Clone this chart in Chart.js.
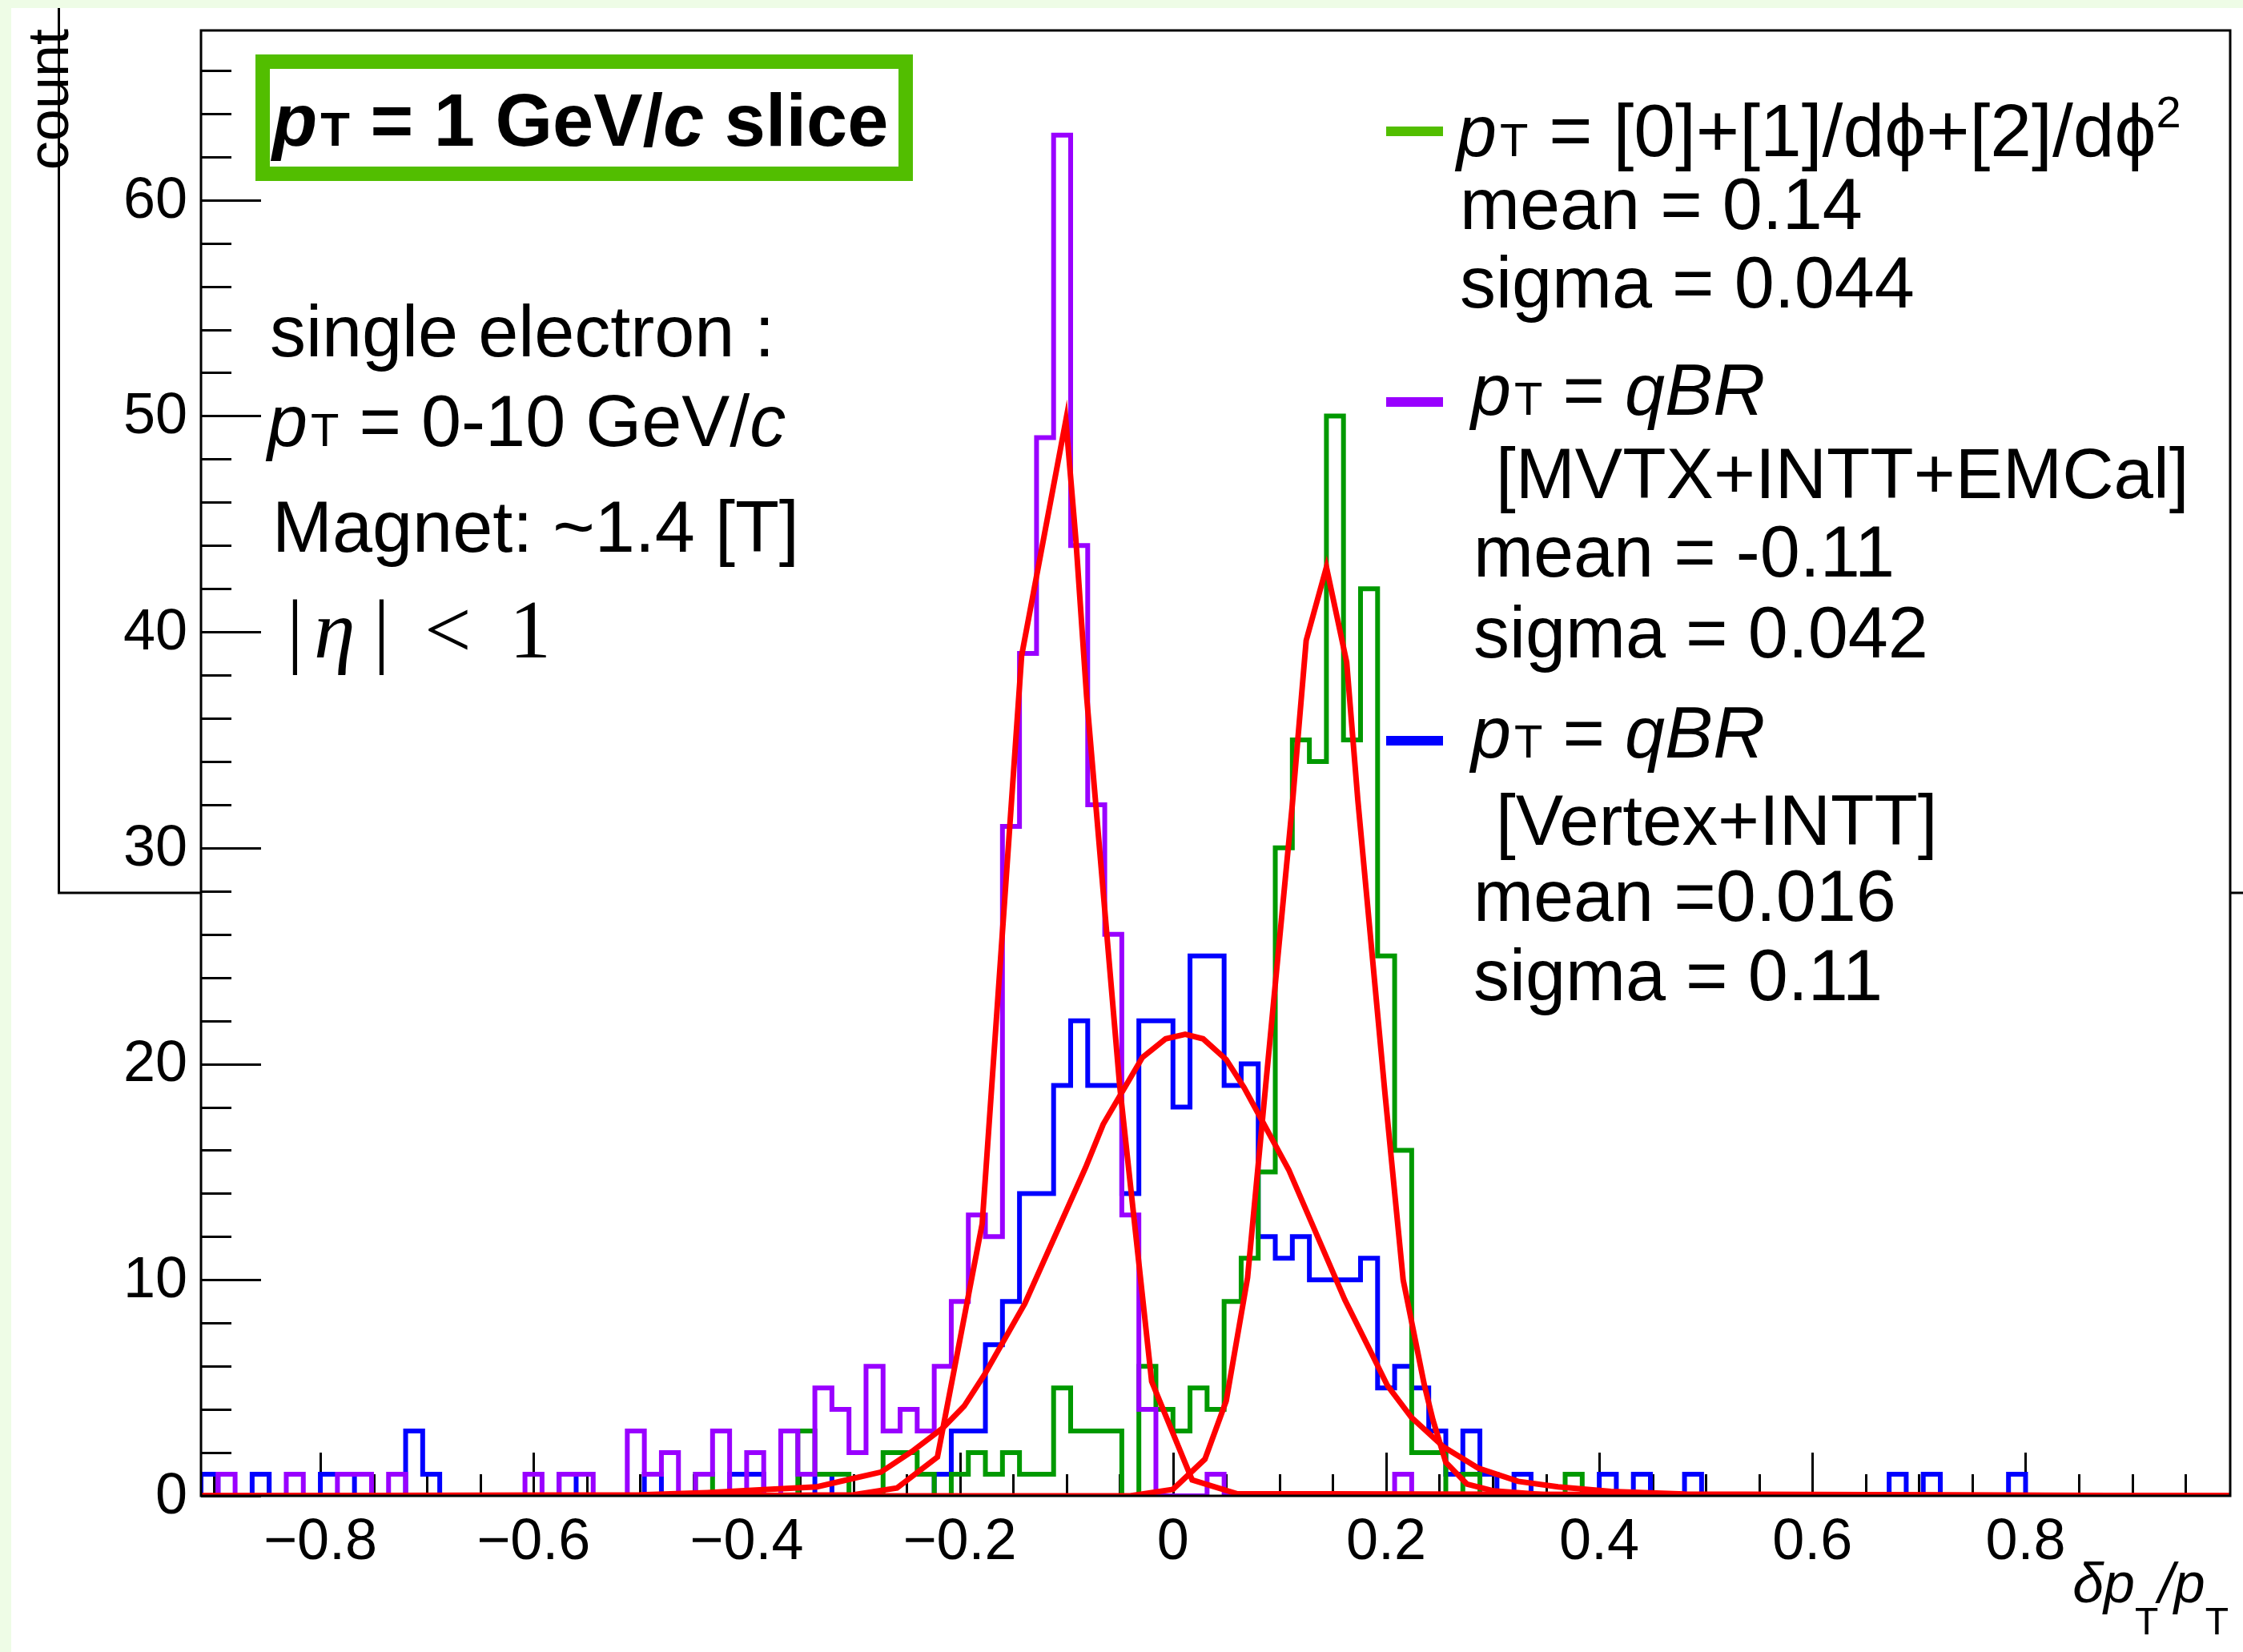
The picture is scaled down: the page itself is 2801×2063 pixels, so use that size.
<!DOCTYPE html>
<html>
<head>
<meta charset="utf-8">
<title>pT resolution, 1 GeV/c slice</title>
<script src="https://cdn.jsdelivr.net/npm/chart.js@4.4.1/dist/chart.umd.min.js"></script>
<style>
  html, body { margin: 0; padding: 0; background: #eefce6; }
  #plot { display: block; }
</style>
</head>
<body>
<canvas id="plot" width="2801" height="2063"></canvas>
<script>
// histogram binning (119 bins of 0.016 starting at -0.912)
const binLow = -0.912;
const binWidth = 0.016;

// pT = [0]+[1]/dphi+[2]/dphi^2
const greenCounts = [
  0, 0, 0, 0, 0, 0, 0, 0, 0, 0,
  0, 0, 0, 0, 0, 0, 0, 0, 0, 0,
  0, 0, 0, 0, 0, 0, 0, 0, 0, 1,
  0, 0, 0, 0, 0, 3, 1, 1, 0, 0,
  2, 2, 1, 0, 1, 2, 1, 2, 1, 1,
  5, 3, 3, 3, 0, 6, 4, 3, 5, 4,
  9, 11, 15, 30, 35, 34, 50, 35, 42, 25,
  16, 2, 2, 0, 1, 0, 0, 0, 0, 0,
  1, 0, 0, 0, 0, 0, 0, 0, 0, 0,
  0, 0, 0, 0, 0, 0, 0, 0, 0, 0,
  0, 0, 0, 0, 0, 0, 0, 0, 0, 0,
  0, 0, 0, 0, 0, 0, 0, 0, 0,
];

// pT = qBR [MVTX+INTT+EMCal]
const purpleCounts = [
  0, 1, 0, 0, 0, 1, 0, 0, 1, 1,
  0, 1, 0, 0, 0, 0, 0, 0, 0, 1,
  0, 1, 1, 0, 0, 3, 1, 2, 0, 1,
  3, 0, 2, 0, 3, 1, 5, 4, 2, 6,
  3, 4, 3, 6, 9, 13, 12, 31, 39, 49,
  63, 44, 32, 26, 13, 4, 0, 0, 0, 1,
  0, 0, 0, 0, 0, 0, 0, 0, 0, 0,
  1, 0, 0, 0, 0, 0, 0, 0, 0, 0,
  0, 0, 0, 0, 0, 0, 0, 0, 0, 0,
  0, 0, 0, 0, 0, 0, 0, 0, 0, 0,
  0, 0, 0, 0, 0, 0, 0, 0, 0, 0,
  0, 0, 0, 0, 0, 0, 0, 0, 0,
];

// pT = qBR [Vertex+INTT]
const blueCounts = [
  1, 0, 0, 1, 0, 0, 0, 1, 1, 0,
  0, 0, 3, 1, 0, 0, 0, 0, 0, 0,
  0, 1, 0, 0, 0, 0, 1, 0, 0, 0,
  0, 1, 1, 0, 0, 0, 1, 0, 0, 0,
  0, 0, 0, 1, 3, 3, 7, 9, 14, 14,
  19, 22, 19, 19, 14, 22, 22, 18, 25, 25,
  19, 20, 12, 11, 12, 10, 10, 10, 11, 5,
  6, 5, 3, 1, 3, 1, 0, 1, 0, 0,
  0, 0, 1, 0, 1, 0, 0, 1, 0, 0,
  0, 0, 0, 0, 0, 0, 0, 0, 0, 1,
  0, 1, 0, 0, 0, 0, 1, 0, 0, 0,
  0, 0, 0, 0, 0, 0, 0, 0, 0,
];

// gaussian fit curves, vertices
const purpleFitX = [-0.912, -0.45, -0.30, -0.259, -0.221, -0.179, -0.142, -0.1005, -0.091, -0.081, -0.050, -0.020, 0.018, 0.06, 0.992];
const purpleFitY = [0, 0, 0.05, 0.36, 1.8, 12.6, 38.9, 49.8, 44.2, 37.0, 19.0, 5.3, 0.74, 0.1, 0];

const greenFitX = [-0.912, -0.04, 0.0, 0.030, 0.050, 0.070, 0.087, 0.112, 0.125, 0.144, 0.163, 0.1735, 0.199, 0.216, 0.236, 0.244, 0.256, 0.276, 0.301, 0.35, 0.992];
const greenFitY = [0, 0, 0.3, 1.7, 4.4, 10.1, 19.0, 32.0, 39.6, 43.0, 38.6, 32.2, 18.6, 10.0, 5.1, 3.5, 1.55, 0.54, 0.23, 0.05, 0];

const blueFitX = [-0.912, -0.50, -0.437, -0.381, -0.334, -0.305, -0.274, -0.245, -0.216, -0.196, -0.177, -0.139, -0.082, -0.0655, -0.0287, -0.0069, 0.0115, 0.0283, 0.050, 0.0668, 0.1086, 0.1613, 0.1863, 0.2013, 0.2238, 0.2538, 0.2863, 0.3238, 0.3613, 0.411, 0.48, 0.992];
const blueFitY = [0, 0.05, 0.15, 0.3, 0.42, 0.75, 1.1, 2.05, 3.14, 4.15, 5.6, 8.9, 15.2, 17.2, 20.3, 21.16, 21.37, 21.16, 20.2, 18.9, 15.1, 9.07, 6.6, 5.1, 3.63, 2.27, 1.29, 0.67, 0.42, 0.2, 0.08, 0];

// axes
const xMajorTicks = [-0.8, -0.6, -0.4, -0.2, 0, 0.2, 0.4, 0.6, 0.8];
const xTickLabels = ["\u22120.8", "\u22120.6", "\u22120.4", "\u22120.2", "0", "0.2", "0.4", "0.6", "0.8"];
const xMinorStep = 0.05;
const yMajorTicks = [0, 10, 20, 30, 40, 50, 60];
const yTickLabels = ["0", "10", "20", "30", "40", "50", "60"];
const yMinorStep = 2;
const yMax = 67.85;

const SANS = '"Liberation Sans", Arial, Helvetica, sans-serif';
const SERIF = '"Liberation Serif", "Times New Roman", serif';

const hist = (counts) => {
  const pts = [{ x: binLow, y: 0 }];
  counts.forEach((c, i) => pts.push({ x: binLow + i * binWidth, y: c }));
  pts.push({ x: binLow + counts.length * binWidth, y: 0 });
  return pts;
};
const curve = (xs, ys) => xs.map((x, i) => ({ x, y: ys[i] }));

// draw a row of text pieces one after another
function drawRuns(ctx, x, y, runs) {
  for (const r of runs) {
    ctx.font = r.font;
    const dx = r.dx || 0;
    ctx.fillText(r.text, x + dx, y + (r.dy || 0));
    x += dx + ctx.measureText(r.text).width;
  }
  return x;
}
function runsWidth(ctx, runs) {
  let w = 0;
  for (const r of runs) {
    ctx.font = r.font;
    w += (r.dx || 0) + ctx.measureText(r.text).width;
  }
  return w;
}

const rootPlot = {
  id: "rootPlot",
  beforeDraw(chart) {
    const ctx = chart.ctx;
    const W = chart.width, H = chart.height;
    ctx.save();
    ctx.fillStyle = "#eefce6";
    ctx.fillRect(0, 0, W, H);
    ctx.fillStyle = "#ffffff";
    ctx.fillRect(14, 10, W - 14, H - 10);

    // frame of the pad underneath
    ctx.strokeStyle = "#000";
    ctx.lineWidth = 3;
    ctx.beginPath();
    ctx.moveTo(73.5, 10);
    ctx.lineTo(73.5, 1115);
    ctx.lineTo(251, 1115);
    ctx.moveTo(2785, 1115);
    ctx.lineTo(W, 1115);
    ctx.stroke();

    ctx.fillStyle = "#000";
    ctx.translate(85, 36);
    ctx.rotate(-Math.PI / 2);
    ctx.font = `72px ${SANS}`;
    ctx.textAlign = "right";
    ctx.textBaseline = "alphabetic";
    ctx.fillText("count", 0, 0);
    ctx.restore();
  },
  beforeDatasetsDraw(chart) {
    const ctx = chart.ctx;
    const { left, bottom } = chart.chartArea;
    const xs = chart.scales.x, ys = chart.scales.y;
    ctx.save();
    ctx.strokeStyle = "#000";
    ctx.lineWidth = 3;
    ctx.beginPath();
    for (let v = 0; v <= yMax; v += yMinorStep) {
      const py = Math.round(ys.getPixelForValue(v)) + 0.5;
      const len = yMajorTicks.includes(v) ? 75 : 38;
      ctx.moveTo(left, py);
      ctx.lineTo(left + len, py);
    }
    for (let k = -18; k <= 19; k++) {
      const v = k * xMinorStep;
      if (v < xs.min || v > xs.max) continue;
      const px = Math.round(xs.getPixelForValue(v)) + 0.5;
      const len = k % 4 === 0 ? 54 : 27;
      ctx.moveTo(px, bottom);
      ctx.lineTo(px, bottom - len);
    }
    ctx.stroke();
    ctx.restore();
  },
  afterDatasetsDraw(chart) {
    const ctx = chart.ctx;
    const { left, right, top, bottom } = chart.chartArea;
    const xs = chart.scales.x, ys = chart.scales.y;
    ctx.save();
    ctx.strokeStyle = "#000";
    ctx.lineWidth = 3;
    ctx.strokeRect(left, top, right - left, bottom - top);

    // tick labels
    ctx.fillStyle = "#000";
    ctx.font = `72px ${SANS}`;
    ctx.textAlign = "right";
    ctx.textBaseline = "middle";
    yMajorTicks.forEach((v, i) => {
      ctx.fillText(yTickLabels[i], left - 17, ys.getPixelForValue(v) + 2);
    });
    ctx.textAlign = "center";
    ctx.textBaseline = "alphabetic";
    xMajorTicks.forEach((v, i) => {
      ctx.fillText(xTickLabels[i], xs.getPixelForValue(v), bottom + 79);
    });

    // x axis title
    ctx.textAlign = "left";
    const titleRuns = [
      { text: "\u03b4p", font: `italic 70px ${SANS}` },
      { text: "T", font: `48px ${SANS}`, dy: 40 },
      { text: "/p", font: `italic 70px ${SANS}` },
      { text: "T", font: `48px ${SANS}`, dy: 40 },
    ];
    drawRuns(ctx, 2783 - runsWidth(ctx, titleRuns), 2001, titleRuns);

    // slice box
    ctx.fillStyle = "#fff";
    ctx.fillRect(328, 77, 803, 140);
    ctx.strokeStyle = "#52be00";
    ctx.lineWidth = 18;
    ctx.strokeRect(328, 77, 803, 140);
    ctx.fillStyle = "#000";
    drawRuns(ctx, 340, 182, [
      { text: "p", font: `italic bold 92px ${SANS}` },
      { text: "T", font: `bold 60px ${SANS}`, dx: 4 },
      { text: " = 1 GeV/", font: `bold 92px ${SANS}` },
      { text: "c", font: `italic bold 92px ${SANS}` },
      { text: " slice", font: `bold 92px ${SANS}` },
    ]);

    // left annotations
    const reg = `90px ${SANS}`;
    drawRuns(ctx, 337, 445, [{ text: "single electron :", font: reg }]);
    drawRuns(ctx, 334, 557, [
      { text: "p", font: `italic 90px ${SANS}` },
      { text: "T", font: `58px ${SANS}`, dx: 4 },
      { text: " = 0-10 GeV/", font: reg },
      { text: "c", font: `italic 90px ${SANS}` },
    ]);
    drawRuns(ctx, 340, 689, [{ text: "Magnet: ~1.4 [T]", font: reg }]);
    ctx.font = `104px ${SERIF}`;
    ctx.fillText("|", 358, 821);
    ctx.fillText("|", 466, 821);
    ctx.fillText("<", 530, 821);
    ctx.fillText("1", 636, 821);
    ctx.font = `italic 104px ${SERIF}`;
    ctx.fillText("\u03b7", 392, 821);

    // legend
    const legendRows = [
      { color: "#52be00", markY: 164, lines: [
        { x: 1819, y: 195, runs: [
          { text: "p", font: `italic 90px ${SANS}` },
          { text: "T", font: `58px ${SANS}`, dx: 4 },
          { text: " = [0]+[1]/d\u03d5+[2]/d\u03d5", font: `93px ${SANS}` },
          { text: "2", font: `56px ${SANS}`, dy: -36 },
        ] },
        { x: 1823, y: 286, runs: [{ text: "mean = 0.14", font: `90px ${SANS}` }] },
        { x: 1823, y: 384, runs: [{ text: "sigma = 0.044", font: `90px ${SANS}` }] },
      ] },
      { color: "#9900ff", markY: 502, lines: [
        { x: 1837, y: 518, runs: [
          { text: "p", font: `italic 90px ${SANS}` },
          { text: "T", font: `58px ${SANS}`, dx: 4 },
          { text: " = ", font: `90px ${SANS}` },
          { text: "qBR", font: `italic 90px ${SANS}` },
        ] },
        { x: 1868, y: 622, runs: [{ text: "[MVTX+INTT+EMCal]", font: `89px ${SANS}` }] },
        { x: 1840, y: 720, runs: [{ text: "mean = -0.11", font: `90px ${SANS}` }] },
        { x: 1840, y: 821, runs: [{ text: "sigma = 0.042", font: `90px ${SANS}` }] },
      ] },
      { color: "#0000ff", markY: 925, lines: [
        { x: 1837, y: 946, runs: [
          { text: "p", font: `italic 90px ${SANS}` },
          { text: "T", font: `58px ${SANS}`, dx: 4 },
          { text: " = ", font: `90px ${SANS}` },
          { text: "qBR", font: `italic 90px ${SANS}` },
        ] },
        { x: 1868, y: 1055, runs: [{ text: "[Vertex+INTT]", font: `89px ${SANS}` }] },
        { x: 1840, y: 1150, runs: [{ text: "mean =0.016", font: `90px ${SANS}` }] },
        { x: 1840, y: 1249, runs: [{ text: "sigma = 0.11", font: `90px ${SANS}` }] },
      ] },
    ];
    legendRows.forEach((row) => {
      ctx.fillStyle = row.color;
      ctx.fillRect(1731, row.markY - 6, 71, 12);
      ctx.fillStyle = "#000";
      row.lines.forEach((ln) => drawRuns(ctx, ln.x, ln.y, ln.runs));
    });
    ctx.restore();
  },
};

const ctx = document.getElementById("plot");
new Chart(ctx, {
  type: "line",
  data: {
    datasets: [
      { label: "fit MVTX+INTT+EMCal", data: curve(purpleFitX, purpleFitY), borderColor: "#ff0000", borderWidth: 7, order: 0 },
      { label: "fit [0]+[1]/dphi+[2]/dphi2", data: curve(greenFitX, greenFitY), borderColor: "#ff0000", borderWidth: 7, order: 0 },
      { label: "fit Vertex+INTT", data: curve(blueFitX, blueFitY), borderColor: "#ff0000", borderWidth: 7, order: 0 },
      { label: "qBR [MVTX+INTT+EMCal]", data: hist(purpleCounts), borderColor: "#9900ff", borderWidth: 6, stepped: "before", order: 1 },
      { label: "[0]+[1]/dphi+[2]/dphi2", data: hist(greenCounts), borderColor: "#009900", borderWidth: 6, stepped: "before", order: 2 },
      { label: "qBR [Vertex+INTT]", data: hist(blueCounts), borderColor: "#0000ff", borderWidth: 6, stepped: "before", order: 3 },
    ],
  },
  options: {
    responsive: false,
    animation: false,
    devicePixelRatio: 1,
    layout: { padding: { left: 251, right: 16, top: 38, bottom: 195 } },
    elements: {
      point: { radius: 0 },
      line: { tension: 0, fill: false, borderJoinStyle: "miter", borderCapStyle: "butt" },
    },
    datasets: { line: { clip: 0 } },
    plugins: {
      legend: { display: false },
      tooltip: { enabled: false },
    },
    scales: {
      x: { type: "linear", min: binLow, max: binLow + 119 * binWidth, display: false },
      y: { type: "linear", min: 0, max: yMax, display: false },
    },
  },
  plugins: [rootPlot],
});
</script>
</body>
</html>
